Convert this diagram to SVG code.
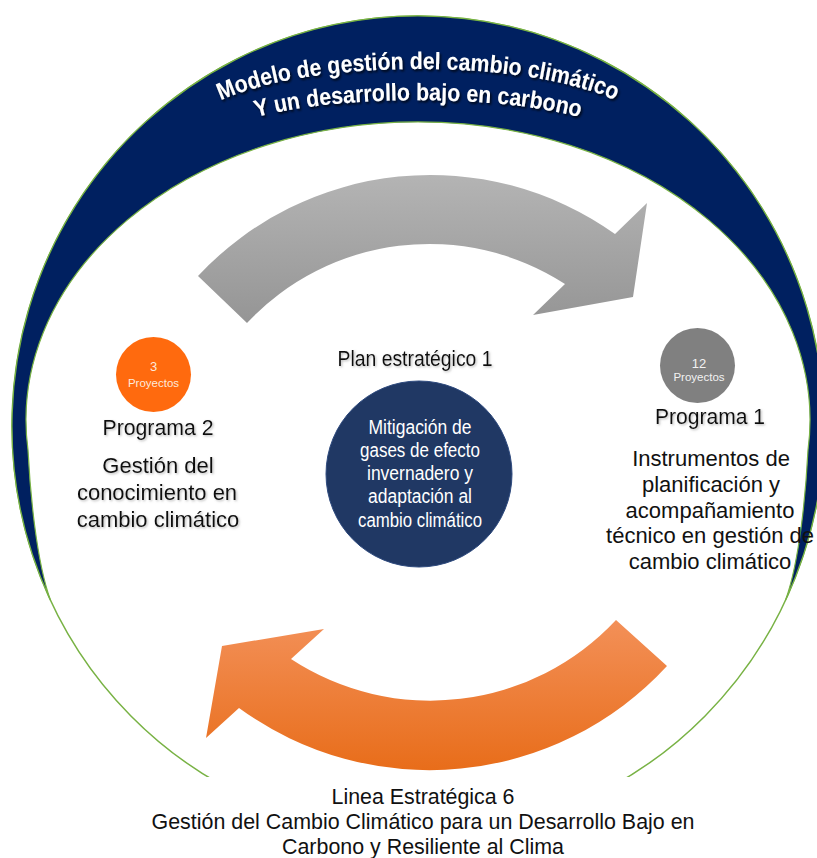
<svg xmlns="http://www.w3.org/2000/svg" width="817" height="858" viewBox="0 0 817 858">
<defs>
<style>
.t{font-family:"Liberation Sans",Arial,sans-serif;text-anchor:middle}
.blk{fill:#111;font-size:22px}
.lbl{fill:#111;font-size:22px}
.wht{fill:#fff;font-size:20px}
.title{fill:#fff;font-size:24px;font-weight:bold}
.small{font-size:11.5px}
.num{font-size:13px}
</style>
<linearGradient id="gGray" x1="0" y1="0" x2="0" y2="1">
<stop offset="0" stop-color="#B4B4B4"/>
<stop offset="1" stop-color="#959595"/>
</linearGradient>
<linearGradient id="gOrange" x1="0" y1="0" x2="0" y2="1">
<stop offset="0" stop-color="#F39058"/>
<stop offset="1" stop-color="#E86D1A"/>
</linearGradient>
<filter id="shT" x="-10%" y="-30%" width="120%" height="160%">
<feDropShadow dx="1.5" dy="2" stdDeviation="1.2" flood-color="#000" flood-opacity="0.75"/>
</filter>
<filter id="shS" x="-10%" y="-30%" width="120%" height="160%">
<feDropShadow dx="1.2" dy="1.2" stdDeviation="1" flood-color="#808080" flood-opacity="0.55"/>
</filter>
<path id="arc1" d="M 190,120 C 260,52 576,52 646,120"/>
<path id="arc2" d="M 228,128 C 300,91 536,91 608,128"/>
</defs>
<rect width="817" height="858" fill="#fff"/>

<g id="frame">
<ellipse cx="418" cy="426" rx="406" ry="410" fill="none" stroke="#78B244" stroke-width="1.5"/>
<path d="M 50.4,600 A 406 410 0 1 1 785.6,600 C 800,560 806,490 808,450 A 392 298 0 1 0 28,450 C 30,490 36,560 50.4,600 Z" fill="#002060" stroke="#78B244" stroke-width="1.2"/>
<text class="t title" filter="url(#shT)"><textPath href="#arc1" startOffset="50%" textLength="402" lengthAdjust="spacingAndGlyphs">Modelo de gestión del cambio climático</textPath></text>
<text class="t title" filter="url(#shT)"><textPath href="#arc2" startOffset="50%" textLength="326" lengthAdjust="spacingAndGlyphs">Y un desarrollo bajo en carbono</textPath></text>
</g>

<g id="connectors">
<path id="arrow-gray" d="M 198,276 A 318 318 0 0 1 615,234 L 647,203 L 633,297 L 533,315 L 565,284 A 250 250 0 0 0 247,323 Z" fill="url(#gGray)"/>
<path id="arrow-orange" d="M 616,620 A 254 254 0 0 1 291,659 L 324,629 L 222,646 L 206,738 L 239,708 A 323 323 0 0 0 667,666 Z" fill="url(#gOrange)"/>
</g>

<g id="linea6">
<rect x="120" y="777" width="606" height="81" fill="#fff"/>
<text class="t lbl" x="423" y="804" textLength="183" lengthAdjust="spacingAndGlyphs">Linea Estratégica 6</text>
<text class="t lbl" x="423" y="829" textLength="543" lengthAdjust="spacingAndGlyphs">Gestión del Cambio Climático para un Desarrollo Bajo en</text>
<text class="t lbl" x="423" y="854" textLength="282" lengthAdjust="spacingAndGlyphs">Carbono y Resiliente al Clima</text>
</g>

<g id="plan1">
<text class="t lbl" x="415" y="366" font-size="21" textLength="155" lengthAdjust="spacingAndGlyphs" filter="url(#shS)">Plan estratégico 1</text>
<circle cx="419" cy="474" r="93" fill="#203864" stroke="#2E4A7E" stroke-width="1"/>
<text class="t wht" x="420" y="434" textLength="103" lengthAdjust="spacingAndGlyphs">Mitigación de</text>
<text class="t wht" x="420" y="457" textLength="120" lengthAdjust="spacingAndGlyphs">gases de efecto</text>
<text class="t wht" x="420" y="480" textLength="106" lengthAdjust="spacingAndGlyphs">invernadero y</text>
<text class="t wht" x="420" y="503" textLength="104" lengthAdjust="spacingAndGlyphs">adaptación al</text>
<text class="t wht" x="420" y="527" textLength="124" lengthAdjust="spacingAndGlyphs">cambio climático</text>
</g>

<g id="programa2">
<circle cx="153.5" cy="374.5" r="37.5" fill="#FF6A0E"/>
<text class="t num" x="153.5" y="371" fill="#FDE9DC">3</text>
<text class="t small" x="153.5" y="387" fill="#FDE9DC">Proyectos</text>
<text class="t lbl" x="158" y="435" textLength="111" lengthAdjust="spacingAndGlyphs" filter="url(#shS)">Programa 2</text>
<text class="t blk" x="158" y="473" filter="url(#shS)">Gestión del</text>
<text class="t blk" x="157" y="500" filter="url(#shS)">conocimiento en</text>
<text class="t blk" x="158" y="527" filter="url(#shS)">cambio climático</text>
</g>

<g id="programa1">
<circle cx="697.5" cy="365.5" r="37.5" fill="#808080"/>
<text class="t num" x="699" y="368" fill="#F2F2F2">12</text>
<text class="t small" x="699" y="381" fill="#F2F2F2">Proyectos</text>
<text class="t lbl" x="710" y="424" textLength="110" lengthAdjust="spacingAndGlyphs" filter="url(#shS)">Programa 1</text>
<text class="t blk" x="711" y="466">Instrumentos de</text>
<text class="t blk" x="711" y="492">planificación y</text>
<text class="t blk" x="710" y="518">acompañamiento</text>
<text class="t blk" x="710" y="543">técnico en gestión de</text>
<text class="t blk" x="710" y="569">cambio climático</text>
</g>
</svg>
